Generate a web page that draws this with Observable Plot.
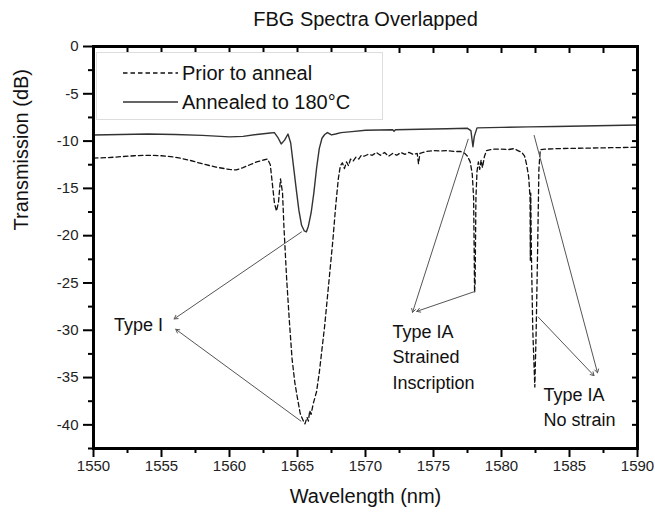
<!DOCTYPE html>
<html><head><meta charset="utf-8">
<script src="https://cdn.jsdelivr.net/npm/d3@7"></script>
<script src="https://cdn.jsdelivr.net/npm/@observablehq/plot@0.6"></script>
<style>
html,body{margin:0;padding:0;background:#fff;}
#wrap{position:relative;width:655px;height:512px;font-family:Arial,"Liberation Sans",Helvetica,sans-serif;color:#111;}
#legend{position:absolute;left:96px;top:52px;width:287px;height:68px;border:1px solid #ddd;box-sizing:border-box;background:#fff;}
.entry{position:absolute;left:0;height:24px;width:286px;}
.entry svg{position:absolute;left:26px;top:0;}
.entry span{position:absolute;left:85px;top:0;font-size:20px;line-height:24px;white-space:nowrap;}
</style></head>
<body><div id="wrap"></div>
<script>
// ---- data ----
const titleText = "FBG Spectra Overlapped";
const xLabel = "Wavelength (nm)";
const yLabel = "Transmission (dB)";
const seriesNames = ["Prior to anneal", "Annealed to 180°C"];

const xMajorTicks = [1550,1555,1560,1565,1570,1575,1580,1585,1590];
const xMinorTicks = [1552.5,1557.5,1562.5,1567.5,1572.5,1577.5,1582.5,1587.5];
const yMajorTicks = [0,-5,-10,-15,-20,-25,-30,-35,-40];
const yMinorTicks = [-2.5,-7.5,-12.5,-17.5,-22.5,-27.5,-32.5,-37.5,-42.5];

const priorWl = [1550,1551,1552,1553,1554,1555,1556,1557,1558,1559,1560,1560.5,1561,1561.5,1562,1562.5,1562.8,1563.0,1563.15,1563.3,1563.45,1563.6,1563.75,1563.9,1564.0,1564.2,1564.4,1564.6,1564.8,1565.0,1565.2,1565.4,1565.55,1565.7,1565.8,1565.9,1566.0,1566.15,1566.4,1566.6,1566.8,1567.0,1567.2,1567.4,1567.6,1567.8,1568.0,1568.15,1568.3,1568.45,1568.6,1568.75,1568.9,1569.1,1569.3,1569.5,1569.7,1569.9,1570.2,1570.5,1570.8,1571.1,1571.4,1571.7,1572.0,1572.3,1572.6,1572.9,1573.2,1573.5,1573.8,1573.9,1574.0,1574.5,1575,1575.5,1576,1576.5,1577,1577.3,1577.5,1577.7,1577.85,1577.95,1578.02,1578.06,1578.12,1578.2,1578.3,1578.4,1578.5,1578.6,1578.75,1578.9,1579.2,1579.5,1580,1580.5,1580.9,1581.2,1581.5,1581.7,1581.85,1582.0,1582.1,1582.12,1582.15,1582.2,1582.3,1582.45,1582.55,1582.65,1582.75,1582.85,1583.2,1584,1586,1588,1590];
const priorDb = [-11.8,-11.75,-11.65,-11.55,-11.5,-11.55,-11.7,-12.0,-12.4,-12.75,-13.0,-13.05,-12.8,-12.5,-12.2,-12.0,-11.9,-12.5,-14.5,-16.5,-17.4,-16.5,-14.0,-15.5,-19.0,-24.5,-29.0,-33.0,-35.5,-37.2,-38.8,-39.5,-39.9,-39.2,-39.6,-38.5,-38.9,-37.8,-36.5,-34.5,-32.0,-29.5,-26.5,-23.5,-20.5,-17.0,-14.0,-12.6,-12.3,-12.9,-12.2,-12.6,-11.9,-12.1,-11.7,-11.9,-11.5,-11.6,-11.4,-11.5,-11.2,-11.5,-11.2,-11.6,-11.3,-11.5,-11.2,-11.4,-11.2,-11.4,-11.3,-12.4,-11.3,-11.1,-11.0,-11.05,-11.0,-11.1,-11.1,-11.3,-11.6,-12.2,-13.5,-16.0,-26.0,-25.0,-16.0,-13.2,-12.2,-13.0,-12.0,-12.8,-11.6,-11.0,-10.9,-10.85,-10.85,-10.9,-10.8,-11.0,-11.2,-11.6,-12.5,-13.8,-16.0,-22.6,-15.5,-22.0,-30.0,-36.0,-30.0,-22.0,-13.0,-10.9,-10.85,-10.8,-10.75,-10.7,-10.65];

const annealWl = [1550,1552,1554,1556,1558,1560,1561,1562,1563.0,1563.3,1563.55,1563.8,1564.05,1564.3,1564.5,1564.7,1564.9,1565.1,1565.3,1565.5,1565.65,1565.8,1566.0,1566.2,1566.4,1566.6,1566.8,1567.0,1567.2,1567.5,1567.8,1568.2,1569,1570,1572,1572.1,1572.2,1574,1576,1577.5,1577.75,1577.9,1578.0,1578.2,1580,1582,1584,1586,1588,1590];
const annealDb = [-9.35,-9.3,-9.25,-9.3,-9.4,-9.55,-9.5,-9.3,-9.15,-9.1,-9.6,-10.3,-9.9,-9.25,-10.2,-12.6,-15.0,-17.3,-18.9,-19.5,-19.6,-19.0,-17.6,-15.5,-12.9,-10.8,-9.7,-9.3,-9.1,-9.35,-9.25,-9.1,-9.0,-8.85,-8.8,-8.95,-8.8,-8.75,-8.7,-8.65,-8.9,-10.6,-9.5,-8.6,-8.55,-8.5,-8.45,-8.4,-8.35,-8.3];

// annotation arrows (from feature to label)
const arrowX1 = [1565.3,1565.25,1577.55,1578.04,1582.4,1582.7];
const arrowY1 = [-19.6,-39.6,-9.8,-25.9,-9.4,-28.6];
const arrowX2 = [1555.93,1556.05,1573.46,1573.77,1587.06,1586.8];
const arrowY2 = [-28.8,-29.9,-28.1,-28.0,-34.5,-34.8];

const labelText = ["Type I", "Type IA\nStrained\nInscription", "Type IA\nNo strain"];
const labelX = [1551.5, 1571.98, 1583.09];
const labelY = [-28.2, -28.95, -35.55];

// ---- build ----
const prior = priorWl.map((x,i)=>({x, y: priorDb[i]}));
const anneal = annealWl.map((x,i)=>({x, y: annealDb[i]}));
const arrows = arrowX1.map((x1,i)=>({x1, y1: arrowY1[i], x2: arrowX2[i], y2: arrowY2[i]}));
const labels = labelText.map((t,i)=>({t, x: labelX[i], y: labelY[i]}));
const xAll = [...xMajorTicks, ...xMinorTicks];
const yAll = [...yMajorTicks, ...yMinorTicks];
const blank = () => "";
const plain = d => String(d);
const FONT = 'Arial, "Liberation Sans", Helvetica, sans-serif';

const chart = Plot.plot({
  width: 655, height: 512,
  marginLeft: 93, marginRight: 18, marginTop: 46, marginBottom: 64,
  x: {domain: [1550, 1590]},
  y: {domain: [-42.5, 0]},
  style: {fontFamily: FONT, fontSize: "15px", color: "#222", background: "white"},
  marks: [
    Plot.line(prior, {x: "x", y: "y", stroke: "#111", strokeWidth: 1.3, strokeDasharray: "4.5,3"}),
    Plot.line(anneal, {x: "x", y: "y", stroke: "#333", strokeWidth: 1.4}),
    Plot.arrow(arrows, {x1: "x1", y1: "y1", x2: "x2", y2: "y2", stroke: "#555", strokeWidth: 1, headLength: 6}),
    Plot.text(labels, {x: "x", y: "y", text: "t", textAnchor: "start", lineAnchor: "top", lineHeight: 1.4, fontSize: 18, fill: "#111"}),
    Plot.text([xLabel], {frameAnchor: "bottom", lineAnchor: "middle", dy: 48, fontSize: 20, fill: "#111"}),
    Plot.text([yLabel], {frameAnchor: "left", dx: -72, dy: -17, rotate: -90, fontSize: 20, fill: "#111"}),
    Plot.text([titleText], {frameAnchor: "top", lineAnchor: "middle", dy: -26.5, fontSize: 20, fill: "#111"}),
    Plot.axisX({ticks: xMajorTicks, tickSize: 9, tickPadding: 3, tickFormat: plain, label: null, fontSize: 15, stroke: "#000", strokeWidth: 2}),
    Plot.axisX({ticks: xMinorTicks, tickSize: 5, tickFormat: blank, label: null, stroke: "#000", strokeWidth: 2}),
    Plot.axisX({anchor: "top", ticks: xAll, tickSize: 6, dy: 6, tickFormat: blank, label: null, stroke: "#000", strokeWidth: 2}),
    Plot.axisY({ticks: yMajorTicks, tickSize: 10, tickPadding: 5, tickFormat: plain, label: null, fontSize: 15, stroke: "#000", strokeWidth: 2}),
    Plot.axisY({ticks: yMinorTicks, tickSize: 5, tickFormat: blank, label: null, stroke: "#000", strokeWidth: 2}),
    Plot.axisY({anchor: "right", ticks: yAll, tickSize: 6, dx: -6, tickFormat: blank, label: null, stroke: "#000", strokeWidth: 2}),
    Plot.frame({stroke: "#000", strokeWidth: 2.8}),
    Plot.frame({anchor: "left", stroke: "#000", strokeWidth: 2.8}),
    Plot.frame({anchor: "bottom", stroke: "#000", strokeWidth: 2.8}),
    Plot.frame({anchor: "top", stroke: "#000", strokeWidth: 2.8}),
    Plot.frame({anchor: "right", stroke: "#000", strokeWidth: 2.8})
  ]
});
const wrap = document.getElementById("wrap");
wrap.appendChild(chart);

// legend inside plot area
const legend = document.createElement("div");
legend.id = "legend";
[["4.5,3", "#111"], [null, "#333"]].forEach(([dash, col], i) => {
  const e = document.createElement("div");
  e.className = "entry";
  e.style.top = (8 + i * 29) + "px";
  const svg = d3.create("svg").attr("width", 56).attr("height", 24);
  svg.append("line").attr("x1", 0).attr("x2", 55).attr("y1", 12).attr("y2", 12)
     .attr("stroke", col).attr("stroke-width", 1.3).attr("stroke-dasharray", dash);
  e.appendChild(svg.node());
  const s = document.createElement("span");
  s.textContent = seriesNames[i];
  e.appendChild(s);
  legend.appendChild(e);
});
wrap.appendChild(legend);
</script>
</body></html>
